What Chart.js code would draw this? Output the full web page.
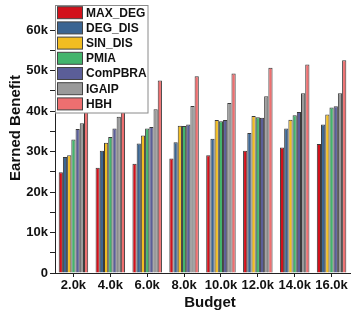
<!DOCTYPE html>
<html><head><meta charset="utf-8">
<script src="https://cdn.jsdelivr.net/npm/chart.js@4/dist/chart.umd.min.js"></script>
<style>html,body{margin:0;padding:0;background:#fff}#wrap{width:354px;height:314px}</style>
</head><body><div id="wrap"><canvas id="c" width="354" height="314"></canvas></div>
<script>
const categories = ['2.0k','4.0k','6.0k','8.0k','10.0k','12.0k','14.0k','16.0k'];
const MAX_DEG = [24900, 26000, 27000, 28300, 29100, 30200, 31000, 31900];
const DEG_DIS = [28700, 30200, 32000, 32300, 33200, 34600, 35700, 36700];
const SIN_DIS = [29100, 32200, 34000, 36400, 37800, 38800, 37900, 39200];
const PMIA    = [33000, 33600, 35700, 36300, 37500, 38500, 39000, 40900];
const ComPBRA = [35600, 35700, 36100, 36700, 37800, 38400, 39800, 41200];
const IGAIP   = [37000, 38600, 40500, 41300, 42000, 43700, 44400, 44400];
const HBH     = [45000, 46300, 47600, 48600, 49300, 50700, 51500, 52600];
const seriesNames = ['MAX_DEG','DEG_DIS','SIN_DIS','PMIA','ComPBRA','IGAIP','HBH'];
const seriesData = [MAX_DEG, DEG_DIS, SIN_DIS, PMIA, ComPBRA, IGAIP, HBH];
const colors = ['#d2111b','#3b6592','#f2bd21','#43b46c','#5b5e98','#9a9a9a','#ee6f70'];
const yTicks = [0,10000,20000,30000,40000,50000,60000];

Chart.defaults.font.family = "'Liberation Sans', Arial, sans-serif";

const overlay = {
  id: 'overlay',
  afterDraw(chart) {
    const ctx = chart.ctx;
    ctx.save();
    // axis titles
    ctx.fillStyle = '#111';
    ctx.font = "bold 15px 'Liberation Sans', Arial, sans-serif";
    ctx.textAlign = 'center';
    ctx.textBaseline = 'middle';
    ctx.fillText('Budget', 210, 303);
    ctx.save();
    ctx.translate(16, 128);
    ctx.rotate(-Math.PI/2);
    ctx.fillText('Earned Benefit', 0, 0);
    ctx.restore();
    // legend
    ctx.fillStyle = '#fff';
    ctx.fillRect(55.5, 5.5, 92.5, 107.5);
    ctx.strokeStyle = '#8a8a8a';
    ctx.lineWidth = 1;
    ctx.strokeRect(55.5, 5.5, 92.5, 107.5);
    ctx.font = "bold 12px 'Liberation Sans', Arial, sans-serif";
    ctx.textAlign = 'left';
    chart.data.datasets.forEach((ds, i) => {
      const cy = 12.7 + i * 15.2;
      ctx.fillStyle = ds.backgroundColor;
      ctx.fillRect(57.5, cy - 6, 25, 12);
      ctx.strokeStyle = '#444';
      ctx.strokeRect(57.5, cy - 6, 25, 12);
      ctx.fillStyle = '#111';
      ctx.fillText(ds.label, 86, cy + 0.5);
    });
    ctx.restore();
  }
};

new Chart(document.getElementById('c'), {
  type: 'bar',
  data: {
    labels: categories,
    datasets: seriesNames.map((n, i) => ({
      label: n,
      data: seriesData[i],
      backgroundColor: colors[i],
      borderColor: '#3a3a3a',
      borderWidth: 1,
      borderSkipped: 'bottom',
      categoryPercentage: 0.8,
      barPercentage: 1.0
    }))
  },
  options: {
    responsive: false,
    animation: false,
    devicePixelRatio: 1,
    layout: { padding: { top: 10, right: 4, left: 0, bottom: 0 } },
    plugins: { legend: { display: false }, tooltip: { enabled: false } },
    scales: {
      x: {
        grid: { display: true, drawOnChartArea: false, tickLength: 4, color: '#222', offset: false },
        border: { color: '#222', width: 1 },
        ticks: { color: '#111', font: { size: 13, weight: 'bold' }, padding: 1, maxRotation: 0, autoSkip: false },
        afterFit(s) { s.height = 41; }
      },
      y: {
        min: 0, max: 65000,
        afterBuildTicks(s) {
          const t = [];
          for (let v = 0; v <= 60000; v += 5000) t.push({ value: v });
          s.ticks = t;
        },
        grid: { display: true, drawOnChartArea: false, tickLength: 5, color: '#222' },
        border: { color: '#222', width: 1 },
        ticks: {
          color: '#111', font: { size: 13, weight: 'bold' }, padding: 2,
          callback(v) { return yTicks.includes(v) ? (v === 0 ? '0' : (v/1000) + 'k') : ''; }
        },
        afterFit(s) { s.width = 55; }
      }
    }
  },
  plugins: [overlay]
});
</script></body></html>
